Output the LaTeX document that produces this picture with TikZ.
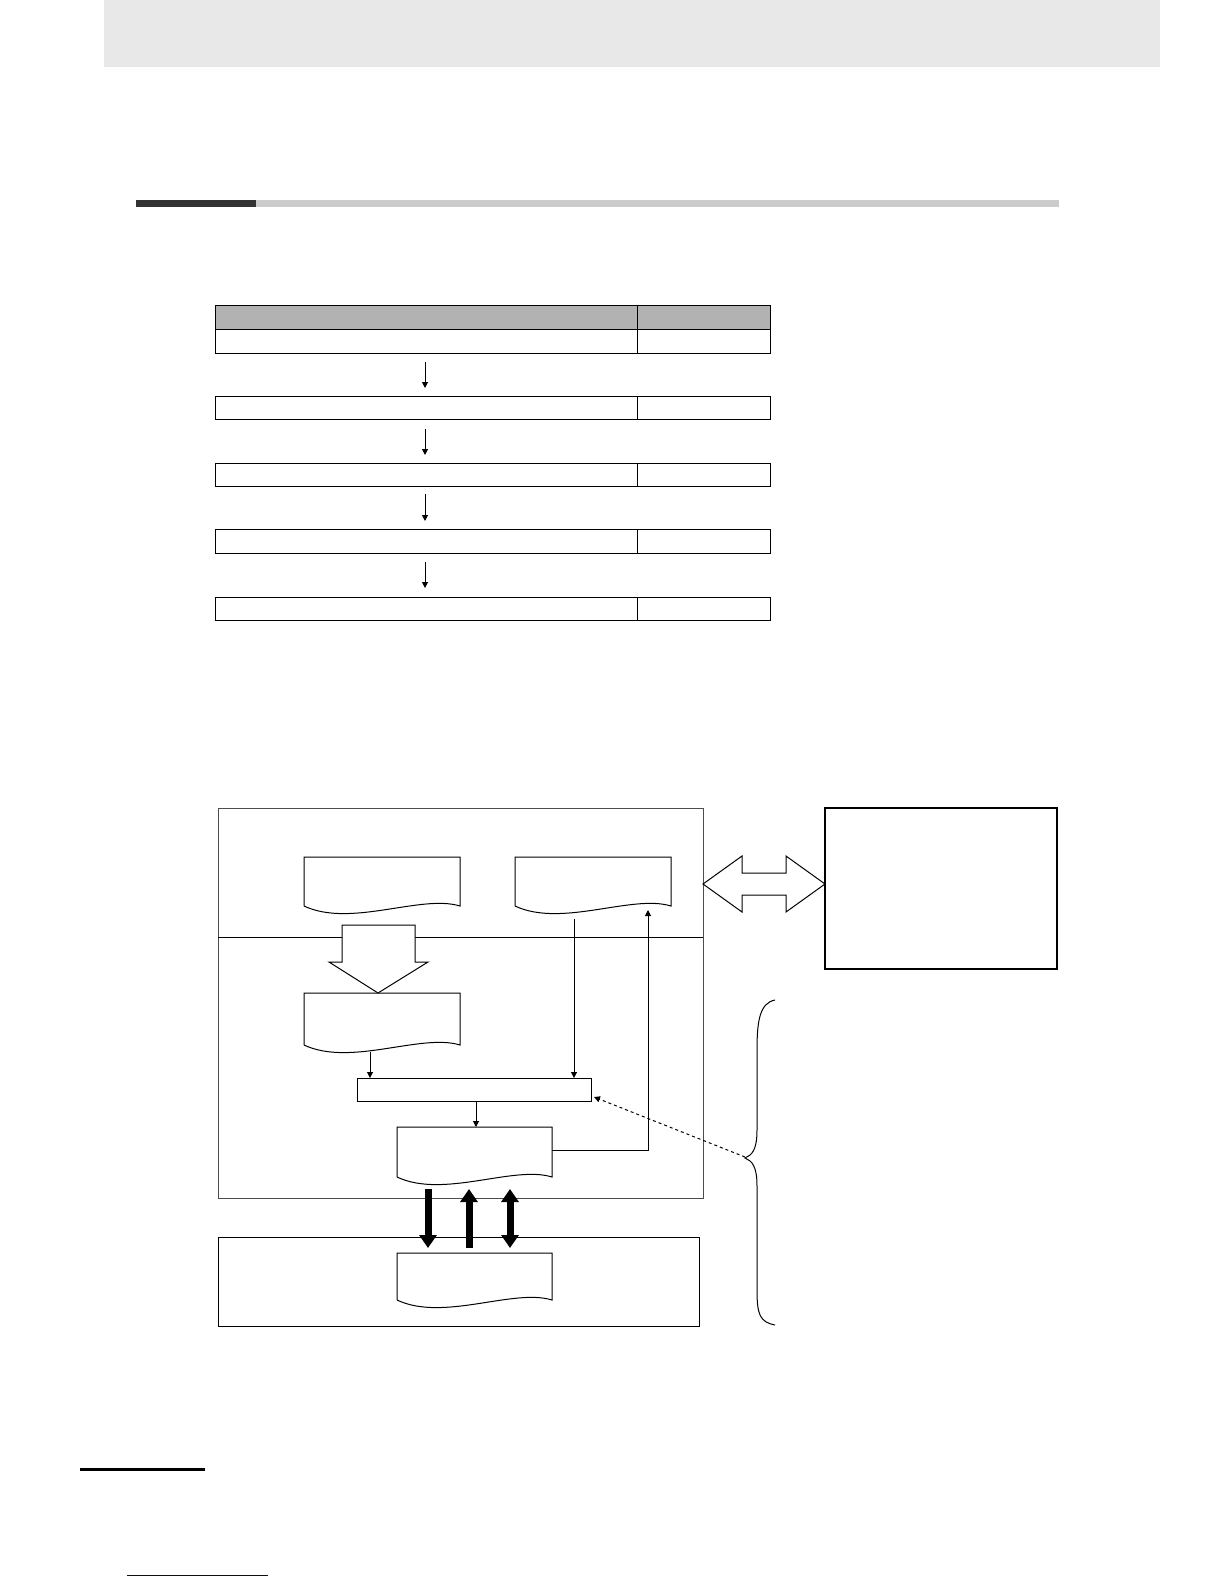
\documentclass[tikz,border=0pt]{standalone}
\usetikzlibrary{arrows.meta}
\begin{document}
\begin{tikzpicture}[x=1pt,y=-1pt,
  ln/.style={draw=black,line width=1pt},
  arr/.style={ln,-{Triangle[length=6pt,width=6pt]}},
  thick arr/.style={line width=7pt,-{Triangle[length=13pt,width=17pt]}},
  cell/.style={ln}]
\useasboundingbox (0,0) rectangle (1224,1584);
\fill[gray!18] (104,0) rectangle (1160,67);
\fill[black!80] (136,200) rectangle (256,207);
\fill[black!20] (256,200) rectangle (1059,207);
% table
\fill[black!30] (215,305) rectangle (770,329);
\draw[cell] (215,305) rectangle (637,329) (637,305) rectangle (770,329);
\foreach \a/\b in {329/353,396/419,463/486,529/553,597/620}
  \draw[cell] (215,\a) rectangle (637,\b) (637,\a) rectangle (770,\b);
\foreach \a/\b in {362/388,429/455,494/521,562/588}
  \draw[arr] (425,\a) -- (425,\b);
% docs
\newcommand{\docshp}[4]{\draw[ln] (#1,#4) -- (#1,#2) -- (#3,#2) -- (#3,#4)
  .. controls ({#1+0.75*(#3-#1)},{#4-12}) and ({#1+0.3*(#3-#1)},{#4+22}) .. (#1,#4);}
\draw[ln,draw=black!70] (218,808) rectangle (703,1198);
\draw[ln] (218,937) -- (703,937);
\docshp{304}{857}{460}{906}
\docshp{515}{857}{671}{906}
\docshp{304}{993}{460}{1045}
\docshp{397}{1127}{552}{1177}
\draw[ln] (357,1078) rectangle (591,1101);
\draw[ln,fill=white] (342,925) -- (415,925) -- (415,962) -- (428,962) -- (378,993) -- (329,962) -- (342,962) -- cycle;
\draw[ln] (218,1237) rectangle (699,1326);
\docshp{397}{1253}{552}{1300}
% right box and double arrow
\draw[line width=2pt] (825,808) rectangle (1057,969);
\draw[ln,fill=white] (703,884) -- (742,856) -- (742,873) -- (786,873) -- (786,856) -- (825,884) -- (786,912) -- (786,895) -- (742,895) -- (742,912) -- cycle;
% connectors
\draw[arr] (370,1052) -- (370,1078);
\draw[arr] (574,919) -- (574,1078);
\draw[arr] (476,1101) -- (476,1127);
\draw[arr] (552,1150) -- (648,1150) -- (648,910);
\draw[ln,dashed,-{Triangle[length=6pt,width=6pt]}] (745,1157) -- (594,1097);
% thick arrows
\draw[thick arr] (428,1189) -- (428,1248);
\draw[thick arr] (469,1248) -- (469,1189);
\draw[thick arr,{Triangle[length=13pt,width=17pt]}-{Triangle[length=13pt,width=17pt]}] (510,1189) -- (510,1248);
% brace
\draw[ln] (775,1000) .. controls (760,1003) and (757,1020) .. (757,1050) -- (757,1130)
  .. controls (757,1150) and (752,1155) .. (745,1158)
  .. controls (752,1161) and (757,1166) .. (757,1186) -- (757,1290)
  .. controls (757,1315) and (760,1322) .. (775,1325);
% footer
\fill (80,1468) rectangle (205,1471);
\draw[blue!50!black,line width=1pt] (127,1575) -- (268,1575);
\end{tikzpicture}
\end{document}
